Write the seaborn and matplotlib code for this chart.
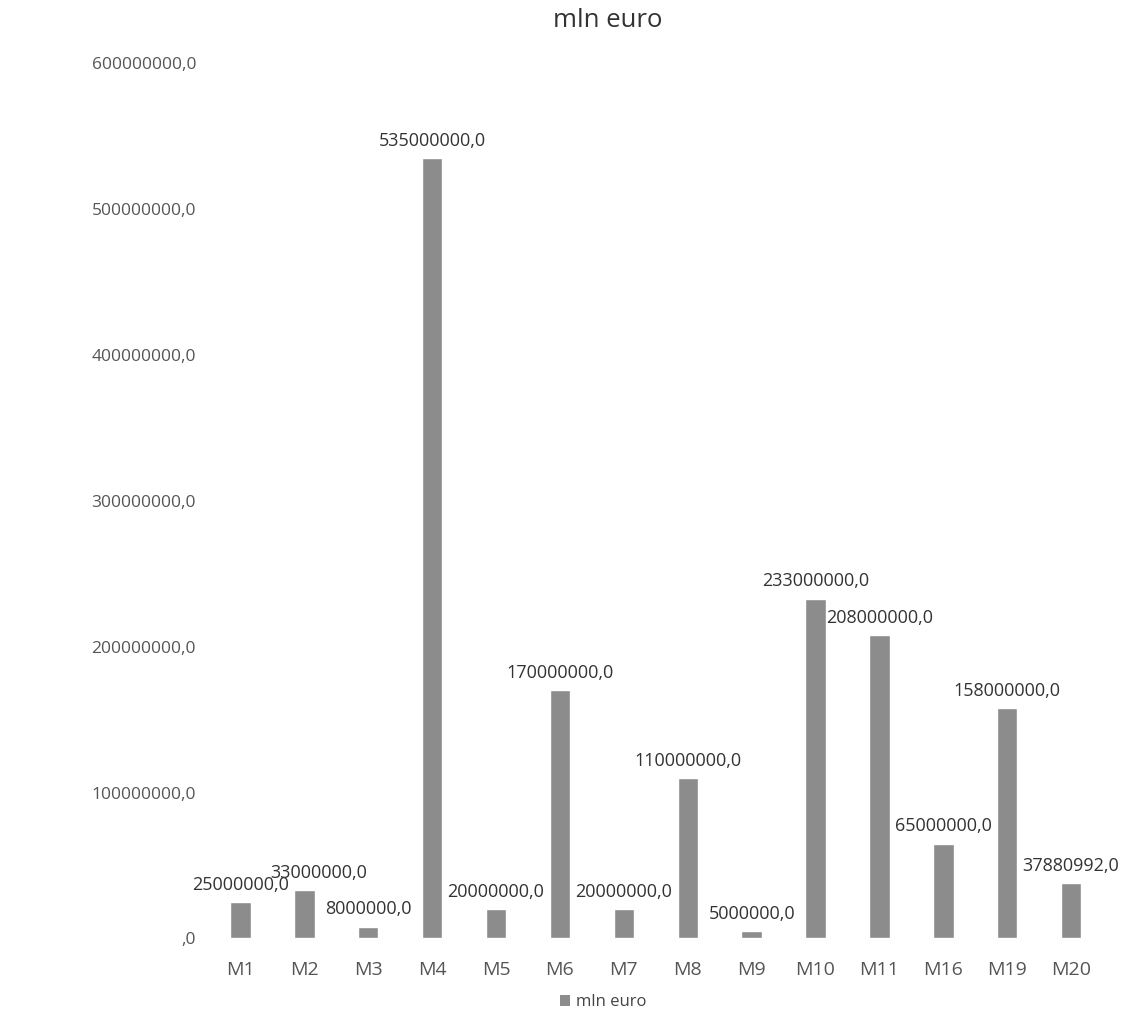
import matplotlib
matplotlib.use("Agg")
import matplotlib.pyplot as plt
import matplotlib.ticker as mticker
from matplotlib.patches import Patch
import seaborn as sns
import pandas as pd

categories = ["M1", "M2", "M3", "M4", "M5", "M6", "M7", "M8", "M9", "M10",
              "M11", "M16", "M19", "M20"]
values = [25000000, 33000000, 8000000, 535000000, 20000000, 170000000,
          20000000, 110000000, 5000000, 233000000, 208000000, 65000000,
          158000000, 37880992]
series_name = "mln euro"

sns.set_theme(style="white")
plt.rcParams["font.family"] = ["Open Sans", "DejaVu Sans"]

df = pd.DataFrame({"cat": categories, "val": values})

fig = plt.figure(figsize=(11.21, 10.19), dpi=100)
ax = fig.add_axes([0.186, 0.079, 0.798, 0.859])

bar_color = "#8c8c8c"
sns.barplot(data=df, x="cat", y="val", color=bar_color, width=0.32,
            saturation=1, ax=ax)

ax.set_ylim(0, 600000000)
ax.yaxis.set_major_locator(mticker.MultipleLocator(100000000))


def fmt(v, pos=None):
    if v == 0:
        return ",0"
    return f"{int(round(v))},0"


ax.yaxis.set_major_formatter(mticker.FuncFormatter(fmt))
ax.tick_params(axis="y", labelsize=12.5, labelcolor="#555555", length=0, pad=9)
ax.tick_params(axis="x", labelsize=14, labelcolor="#555555", length=0, pad=16)
ax.set_xlabel("")
ax.set_ylabel("")
for s in ax.spines.values():
    s.set_visible(False)
ax.grid(False)

# value labels above each bar; the M2 label is nudged right to ease the
# crowding with M1
offsets = {"M2": 10}
for patch, cat, v in zip(ax.patches, categories, values):
    x = patch.get_x() + patch.get_width() / 2
    ax.annotate(fmt(v), (x, v), xytext=(offsets.get(cat, 0), 6),
                textcoords="offset points", ha="center", va="bottom",
                fontsize=13, color="#333333")

fig.suptitle(series_name, x=0.542, y=0.992, fontsize=18.5, color="#333333")

handle = Patch(facecolor=bar_color, edgecolor="none")
fig.legend([handle], [series_name], loc="lower center",
           bbox_to_anchor=(0.538, -0.006), frameon=False, fontsize=12,
           labelcolor="#444444", handlelength=0.6, handleheight=0.6,
           handletextpad=0.4)

fig.savefig("out.png", dpi=100, facecolor="white")
